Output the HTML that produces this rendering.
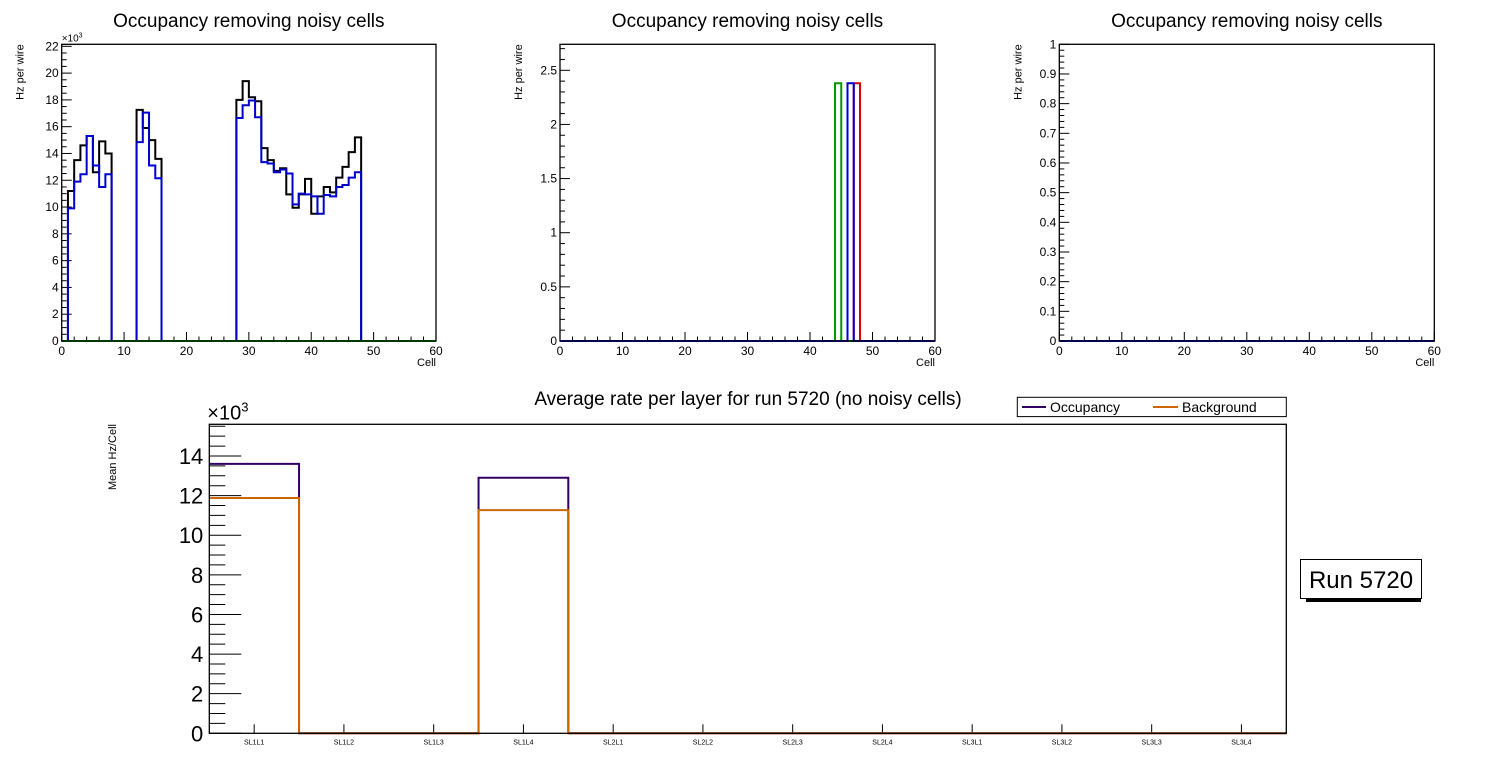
<!DOCTYPE html>
<html><head><meta charset="utf-8"><style>
html,body{margin:0;padding:0;background:#fff;}
svg{display:block;font-family:"Liberation Sans",sans-serif;}
</style></head><body>
<svg id="c" width="1496" height="772" viewBox="0 0 1496 772"></svg>
<script>
// ---- data ----
const cells = Array.from({length:60},(_,i)=>i);
const p1Black = [0,11.2,13.5,14.6,15.3,12.6,14.9,14.0,0,0,0,0,17.25,15.9,15.0,13.6,0,0,0,0,0,0,0,0,0,0,0,0,18.0,19.4,18.2,17.9,14.4,13.5,12.7,12.9,10.95,9.95,10.95,12.1,9.5,10.8,11.5,11.1,12.2,13.0,14.1,15.2,0,0,0,0,0,0,0,0,0,0,0,0];
const p1Blue = [0,9.9,11.9,12.45,15.3,13.1,11.5,12.45,0,0,0,0,14.85,17.05,13.1,12.15,0,0,0,0,0,0,0,0,0,0,0,0,16.65,17.6,17.95,16.7,13.35,13.25,12.6,12.8,12.5,10.2,11.0,10.95,10.8,9.5,10.9,10.8,11.5,11.65,12.2,12.6,0,0,0,0,0,0,0,0,0,0,0,0];
const p1Green = new Array(60).fill(0);
const p2GreenBins = [44]; const p2GreenVals = [2.38];
const p2BlueBins = [46]; const p2BlueVals = [2.38];
const p2RedBins = [47]; const p2RedVals = [2.38];
const layers = ["SL1L1","SL1L2","SL1L3","SL1L4","SL2L1","SL2L2","SL2L3","SL2L4","SL3L1","SL3L2","SL3L3","SL3L4"];
const occupancy = [13.6,0,0,12.9,0,0,0,0,0,0,0,0];
const background = [11.88,0,0,11.27,0,0,0,0,0,0,0,0];
const p1Ticks = [0,2,4,6,8,10,12,14,16,18,20,22];
const p2Ticks = [0,0.5,1,1.5,2,2.5];
const p3Ticks = [0,0.1,0.2,0.3,0.4,0.5,0.6,0.7,0.8,0.9,1];
const xTicks = [0,10,20,30,40,50,60];
const bTicks = [0,2,4,6,8,10,12,14];

const NS="http://www.w3.org/2000/svg";
const svg=document.getElementById('c');
function mk(tag,attrs,parent,txt){const e=document.createElementNS(NS,tag);for(const k in attrs)e.setAttribute(k,attrs[k]);if(txt!==undefined)e.textContent=txt;(parent||svg).appendChild(e);return e;}

function histPath(vals,bins,xs,ys){
  let d='';
  for(let i=0;i<vals.length;i++){
    const x0=xs(bins[i]),x1=xs(bins[i]+1),y=ys(vals[i]);
    if(i===0)d+=`M${x0},${ys(0)} L${x0},${y}`;else d+=` L${x0},${y}`;
    d+=` L${x1},${y}`;
  }
  return d;
}
function sparse(binsArr,valsArr,n){const a=new Array(n).fill(0);binsArr.forEach((b,i)=>a[b]=valsArr[i]);return a;}

function panel(id,L,R,T,B,ymax,yt,minorStep,series,mult){
  const g=mk('g',{});
  
  
  const xs=v=>L+(R-L)*v/60, ys=v=>B-(B-T)*v/ymax;
  const title=mk('text',{x:(L+R)/2,y:27,'font-size':19,'text-anchor':'middle'},g,'Occupancy removing noisy cells');
  
  for(let v=0;v<=ymax+1e-9;v+=minorStep){
    const isMaj=yt.some(t=>Math.abs(t-v)<1e-6);
    mk('line',{x1:L,x2:L+(isMaj?10:5),y1:ys(v),y2:ys(v),stroke:'#000','stroke-width':1},g);
  }
  yt.forEach(t=>{const e=mk('text',{x:L-3,y:ys(t)+4,'font-size':12,'text-anchor':'end'},g,String(t));
    });
  for(let v=0;v<=60;v+=2){const maj=v%10===0;mk('line',{x1:xs(v),x2:xs(v),y1:B,y2:B-(maj?9:4.5),stroke:'#000','stroke-width':1},g);}
  xTicks.forEach(t=>{const e=mk('text',{x:xs(t),y:B+14,'font-size':12,'text-anchor':'middle'},g,String(t));
    });
  const xt=mk('text',{x:R,y:B+25,'font-size':11,'text-anchor':'end'},g,'Cell');
  
  const yl=mk('text',{x:0,y:0,'font-size':11,'text-anchor':'end',transform:`translate(${L-38},${T}) rotate(-90)`},g,'Hz per wire');
  
  if(mult){const m=mk('text',{x:L,y:T-3,'font-size':10},g);
    m.innerHTML='×10<tspan dy="-4" font-size="7">3</tspan>';}
  series.forEach(s=>{const p=mk('path',{d:histPath(s.vals,cells,xs,ys),fill:'none',stroke:s.color,'stroke-width':2},g);
    });
  mk('rect',{x:L,y:T,width:R-L,height:B-T,fill:'none',stroke:'#000','stroke-width':1.3},g);
}

panel('panel-1',61.7,436,44.3,341,22.15,p1Ticks,0.5,[
  {vals:p1Black,color:'#000',name:'black-series'},
  {vals:p1Blue,color:'#0000cc',name:'blue-series'},
  {vals:p1Green,color:'#009900',name:'green-series'}],true);
panel('panel-2',560,935,44.3,341,2.74,p2Ticks,0.1,[
  {vals:sparse(p2RedBins,p2RedVals,60),color:'#dd0000',name:'red-series'},
  {vals:sparse(p2GreenBins,p2GreenVals,60),color:'#009900',name:'green-series'},
  {vals:sparse(p2BlueBins,p2BlueVals,60),color:'#0000cc',name:'blue-series'}],false);
panel('panel-3',1059.3,1434.3,44.3,341,1,p3Ticks,0.02,[
  {vals:new Array(60).fill(0),color:'#0000cc',name:'blue-series'}],false);

(function(){
  const L=209.3,R=1286.3,T=424.3,B=733.3,ymax=15.6;
  const g=mk('g',{});
  
  
  const bw=(R-L)/layers.length;
  const xs=i=>L+bw*i, ys=v=>B-(B-T)*v/ymax;
  const t=mk('text',{x:748,y:405,'font-size':19,'text-anchor':'middle'},g,'Average rate per layer for run 5720 (no noisy cells)');
  
  for(let v=0;v<=ymax;v+=0.5){const maj=Math.abs(v/2-Math.round(v/2))<1e-6;
    mk('line',{x1:L,x2:L+(maj?32:16),y1:ys(v),y2:ys(v),stroke:'#000','stroke-width':1},g);}
  bTicks.forEach(v=>{const e=mk('text',{x:L-6,y:ys(v)+8,'font-size':22,'text-anchor':'end'},g,String(v));
    });
  const m=mk('text',{x:L-2,y:T-5,'font-size':20},g);
  m.innerHTML='×10<tspan dy="-8" font-size="13">3</tspan>';
  const yl=mk('text',{x:0,y:0,'font-size':11,'text-anchor':'end',transform:`translate(116,424) rotate(-90)`},g,'Mean Hz/Cell');
  
  layers.forEach((n,i)=>{const cx=xs(i)+bw/2;
    mk('line',{x1:cx,x2:cx,y1:B,y2:B-9,stroke:'#000','stroke-width':1},g);
    const e=mk('text',{x:cx,y:B+11,'font-size':7,'text-anchor':'middle'},g,n);
    });
  const idx=layers.map((_,i)=>i);
  [[occupancy,'#330066','occupancy-series'],[background,'#cc6600','background-series']].forEach(([vals,col,name])=>{
    let d=`M${xs(0)},${ys(vals[0])}`;
    idx.forEach(i=>{d+=` L${xs(i)},${ys(vals[i])} L${xs(i+1)},${ys(vals[i])}`;});
    const p=mk('path',{d:d,fill:'none',stroke:col,'stroke-width':2},g);
    });
  mk('rect',{x:L,y:T,width:R-L,height:B-T,fill:'none',stroke:'#000','stroke-width':1.3},g);
  const lg=mk('g',{},g);
  mk('rect',{x:1017.3,y:397.3,width:269,height:19.3,fill:'#fff',stroke:'#000','stroke-width':1},lg);
  mk('line',{x1:1022,x2:1046,y1:407,y2:407,stroke:'#330066','stroke-width':2},lg);
  const e1=mk('text',{x:1050,y:412,'font-size':14},lg,'Occupancy');
  mk('line',{x1:1153,x2:1178,y1:407,y2:407,stroke:'#cc6600','stroke-width':2},lg);
  const e2=mk('text',{x:1182,y:412,'font-size':14},lg,'Background');
  const rb=mk('g',{});
  mk('rect',{x:1306,y:598,width:115,height:4,fill:'#000'},rb);
  mk('rect',{x:1300.5,y:559.5,width:121,height:39,fill:'#fff',stroke:'#000','stroke-width':1},rb);
  mk('text',{x:1361,y:588,'font-size':24,'text-anchor':'middle'},rb,'Run 5720');
})();
</script>
</body></html>
